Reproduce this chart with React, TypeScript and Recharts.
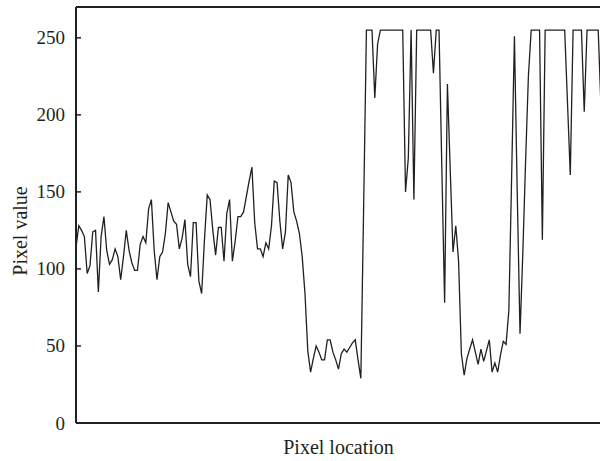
import { LineChart, Line, XAxis, YAxis, ReferenceLine } from "recharts";

// grey level along the scan line
const pixelValues = [
  114, 128, 125, 121, 97, 102, 124, 125, 85, 121,
  134, 112, 103, 106, 113, 108, 93, 108, 125, 112,
  104, 99, 99, 116, 121, 117, 139, 145, 112, 93,
  108, 111, 123, 143, 137, 131, 129, 113, 120, 132,
  103, 95, 130, 130, 92, 84, 119, 148, 145, 125,
  109, 127, 127, 105, 136, 145, 105, 118, 134, 134,
  137, 147, 157, 166, 130, 113, 113, 108, 117, 113,
  128, 157, 156, 131, 113, 124, 161, 156, 137, 131,
  123, 108, 84, 47, 33, 42, 50, 46, 41, 41,
  54, 54, 46, 41, 35, 45, 48, 46, 49, 52,
  54, 41, 29, 140, 255, 255, 255, 211, 246, 255,
  255, 255, 255, 255, 255, 255, 255, 255, 150, 172,
  255, 145, 255, 255, 255, 255, 255, 255, 227, 255,
  255, 166, 78, 220, 165, 111, 128, 105, 45, 31,
  42, 48, 54, 46, 38, 48, 40, 47, 54, 33,
  39, 33, 44, 53, 51, 73, 160, 251, 150, 58,
  110, 170, 225, 255, 255, 255, 255, 119, 255, 255,
  255, 255, 255, 255, 255, 255, 208, 161, 255, 255,
  255, 255, 202, 255, 255, 255, 255, 255, 205,
];

const valueTicks = [0, 50, 100, 150, 200, 250];

const INK = "#231f20";
const FONT = "'Liberation Serif', 'DejaVu Serif', serif";

const data = pixelValues.map((value, index) => ({ location: index + 1, value }));

const LeftTick = ({ x, y, payload }: any) => (
  <g>
    <line x1={x + 11} x2={x + 16} y1={y} y2={y} stroke={INK} strokeWidth={1.5} />
    <text
      x={x}
      y={y}
      textAnchor="end"
      dominantBaseline="central"
      fontFamily={FONT}
      fontSize={19}
      fill={INK}
    >
      {payload.value}
    </text>
  </g>
);

const RightTick = ({ x, y }: any) => (
  <line x1={x - 5} x2={x} y1={y} y2={y} stroke={INK} strokeWidth={1.5} />
);

const YTitle = ({ viewBox }: any) => {
  const cx = viewBox.x + 20;
  const cy = viewBox.y + viewBox.height / 2 + 16;
  return (
    <text
      x={cx}
      y={cy}
      transform={`rotate(-90 ${cx} ${cy})`}
      textAnchor="middle"
      dominantBaseline="central"
      fontFamily={FONT}
      fontSize={20}
      fill={INK}
    >
      Pixel value
    </text>
  );
};

const XTitle = ({ viewBox }: any) => (
  <text
    x={viewBox.x + viewBox.width / 2}
    y={viewBox.y + 31}
    textAnchor="middle"
    fontFamily={FONT}
    fontSize={20}
    fill={INK}
  >
    Pixel location
  </text>
);

export default function App() {
  return (
    <div
      style={{
        position: "fixed",
        left: 0,
        top: 0,
        width: 600,
        height: 461,
        overflow: "hidden",
        background: "#fff",
      }}
    >
      <LineChart
        width={611}
        height={461}
        data={data}
        margin={{ top: 7, right: 0, bottom: 0, left: 0 }}
      >
        <XAxis
          dataKey="location"
          height={38}
          tick={false}
          tickLine={false}
          axisLine={{ stroke: INK, strokeWidth: 2 }}
          label={<XTitle />}
        />
        <YAxis
          width={76}
          domain={[0, 270]}
          ticks={valueTicks}
          tickSize={0}
          tickMargin={11}
          tickLine={false}
          tick={<LeftTick />}
          axisLine={{ stroke: INK, strokeWidth: 2 }}
          label={<YTitle />}
        />
        <YAxis
          yAxisId="right"
          orientation="right"
          width={10}
          domain={[0, 270]}
          ticks={valueTicks}
          tickSize={0}
          tickMargin={0}
          tickLine={false}
          tick={<RightTick />}
          axisLine={{ stroke: INK, strokeWidth: 2 }}
        />
        <ReferenceLine y={270} stroke={INK} strokeWidth={2} />
        <Line
          type="linear"
          dataKey="value"
          stroke={INK}
          strokeWidth={1.3}
          dot={false}
          activeDot={false}
          isAnimationActive={false}
        />
      </LineChart>
    </div>
  );
}
